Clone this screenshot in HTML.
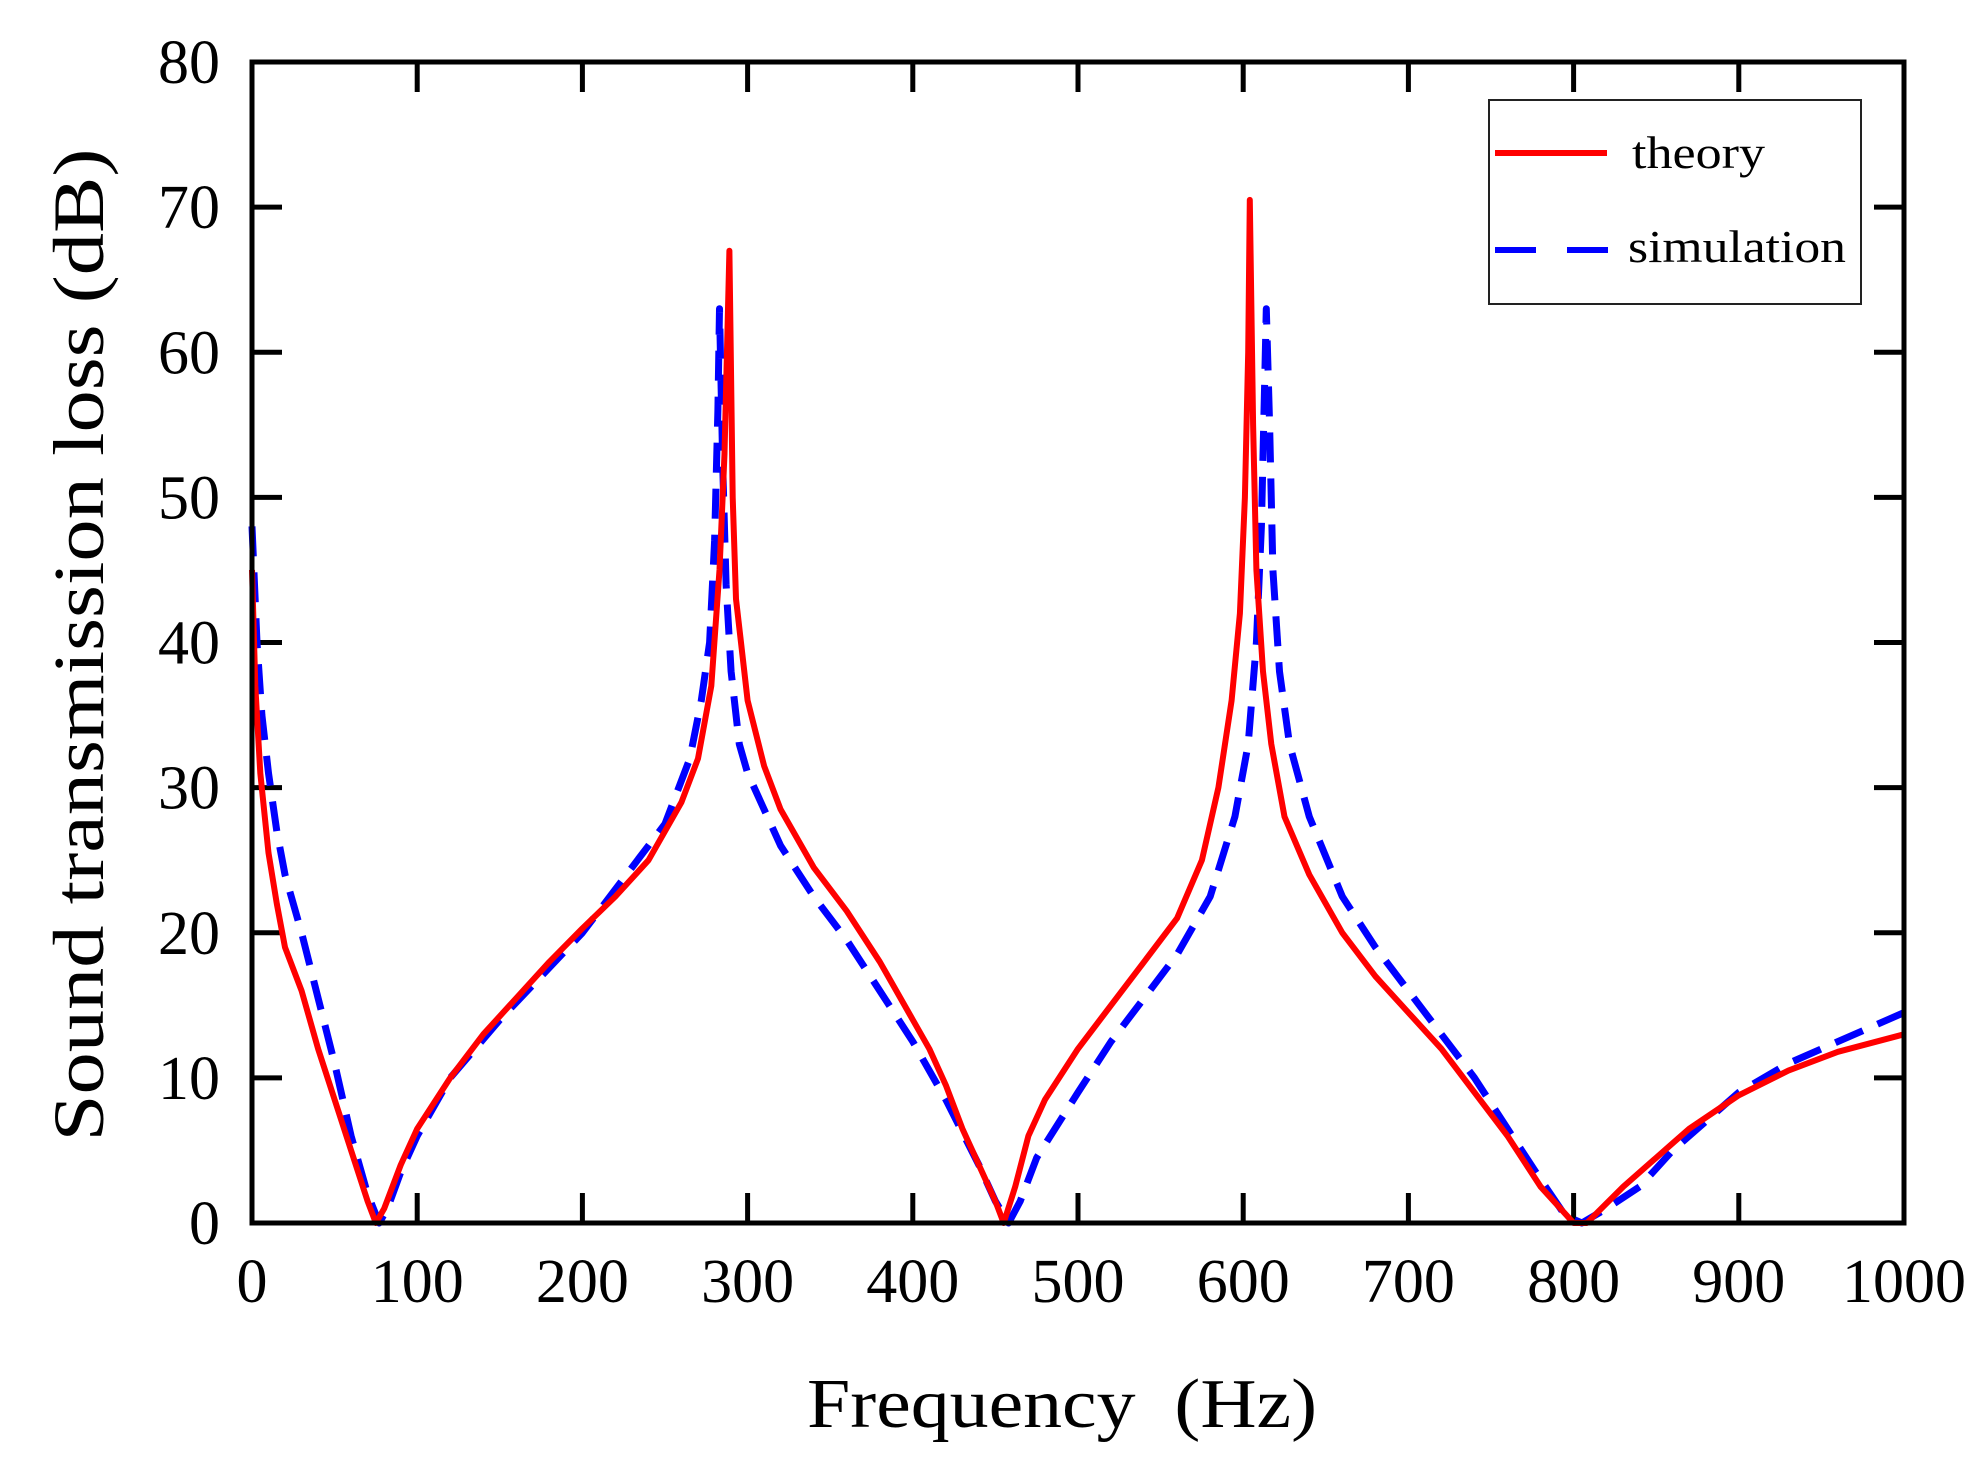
<!DOCTYPE html>
<html><head><meta charset="utf-8"><style>
html,body{margin:0;padding:0;background:#fff;}
svg{display:block;font-family:"Liberation Serif",serif;}
</style></head><body>
<svg id="chart" width="1983" height="1484" viewBox="0 0 1983 1484" xmlns="http://www.w3.org/2000/svg">
<g id="plot"></g>
</svg>
<script>
const theoryX=[0,2,5,10,15,20,30,40,50,60,70,75,80,90,100,120,140,160,180,200,220,240,260,270,278,283,286,289,291,293,296,300,310,320,340,360,380,400,410,420,430,440,450,455,462,470,480,500,520,540,560,575,585,593,598,601,603,604,606,608,612,617,625,640,660,680,700,720,740,760,780,800,808,830,850,870,900,930,960,1000];
const theoryY=[45,37,31,25.5,22,19,16,12,8.5,5,1.5,0,1,4,6.5,10,13,15.5,18,20.3,22.5,25,29,32,37,45,53,67,50,43,40,36,31.5,28.5,24.5,21.5,18,14,12,9.5,6.5,4,1.5,0,2.5,6,8.5,12,15,18,21,25,30,36,42,50,60,70.5,55,45,38,33,28,24,20,17,14.5,12,9,6,2.5,0,0,2.5,4.5,6.5,8.8,10.5,11.8,13];
const simX=[0,3,6,10,15,20,30,40,50,60,70,77,82,90,100,120,150,200,250,265,272,277,280,282,283,285,287,290,295,300,310,320,340,360,380,400,420,440,450,458,465,475,500,520,540,560,580,595,603,608,611,613,614,616,618,622,628,640,660,680,700,720,740,760,780,795,805,820,840,860,880,900,930,960,1000];
const simY=[48,40,35,31,27,24,20,15.5,11,6,2,0,1,3.5,6,10,14,20,27.5,32,36,40,47,56,63,52,44,38,33,31,28.5,26,22.5,19.5,16,12.5,8.5,4,1.5,0,1.5,4.5,9,12.5,15.5,18.5,22.5,28,33,40,48,58,63,55,45,38,33,28,22.5,19,16,13,10,6.5,3,0.5,0,1,2.5,5,7,9,11,12.5,14.5];
const xTicks=[0,100,200,300,400,500,600,700,800,900,1000];
const yTicks=[0,10,20,30,40,50,60,70,80];

const L=252,R=1904,T=62,B=1223;
const sx=v=>L+(v/1000)*(R-L);
const sy=v=>B-(v/80)*(B-T);
const NS="http://www.w3.org/2000/svg";
const g=document.getElementById('plot');
function mk(tag,attrs,parent){const e=document.createElementNS(NS,tag);for(const k in attrs)e.setAttribute(k,attrs[k]);(parent||g).appendChild(e);return e;}

xTicks.forEach(t=>{
  const x=sx(t);
  const a=mk('line',{x1:x,y1:B,x2:x,y2:B-30,stroke:'#000','stroke-width':5});
  
  
  const b=mk('line',{x1:x,y1:T,x2:x,y2:T+30,stroke:'#000','stroke-width':5});
  
  
  const lb=mk('text',{x:x,y:1302,'text-anchor':'middle','font-size':62});
  lb.textContent=t;
  
  
});
yTicks.forEach(t=>{
  const y=sy(t);
  const a=mk('line',{x1:L,y1:y,x2:L+30,y2:y,stroke:'#000','stroke-width':5});
  
  
  const b=mk('line',{x1:R,y1:y,x2:R-30,y2:y,stroke:'#000','stroke-width':5});
  
  
  const lb=mk('text',{x:220,y:y+21,'text-anchor':'end','font-size':62});
  lb.textContent=t;
  
  
});

function path(xs,ys){return xs.map((v,i)=>(i?'L':'M')+sx(v).toFixed(1)+','+sy(ys[i]).toFixed(1)).join(' ');}
const sm=mk('path',{d:path(simX,simY),fill:'none',stroke:'#0000ff','stroke-width':7,'stroke-dasharray':'30 16','stroke-linejoin':'round'});


const th=mk('path',{d:path(theoryX,theoryY),fill:'none',stroke:'#ff0000','stroke-width':6,'stroke-linejoin':'round'});



const fr=mk('rect',{x:L,y:T,width:R-L,height:B-T,fill:'none',stroke:'#000','stroke-width':5});



const lg=mk('g',{});


mk('rect',{x:1489,y:100,width:372,height:204,fill:'#fff',stroke:'#222','stroke-width':2},lg);
mk('line',{x1:1495,y1:153,x2:1607,y2:153,stroke:'#ff0000','stroke-width':6},lg);
const t1=mk('text',{x:1632,y:168,'font-size':46,textLength:133,lengthAdjust:'spacingAndGlyphs'},lg);t1.textContent='theory';


mk('line',{x1:1495,y1:250,x2:1608,y2:250,stroke:'#0000ff','stroke-width':6,'stroke-dasharray':'41 31'},lg);
const t2=mk('text',{x:1628,y:262,'font-size':46,textLength:218,lengthAdjust:'spacingAndGlyphs'},lg);t2.textContent='simulation';



const xt=mk('text',{x:1062,y:1427,'text-anchor':'middle','font-size':70,textLength:510,lengthAdjust:'spacingAndGlyphs'});
xt.textContent='Frequency\u00a0\u00a0(Hz)';


const yt=mk('text',{x:0,y:0,'text-anchor':'middle','font-size':72,textLength:993,lengthAdjust:'spacingAndGlyphs',transform:'translate(103,645) rotate(-90)'});
yt.textContent='Sound transmission loss (dB)';


</script>
</body></html>
